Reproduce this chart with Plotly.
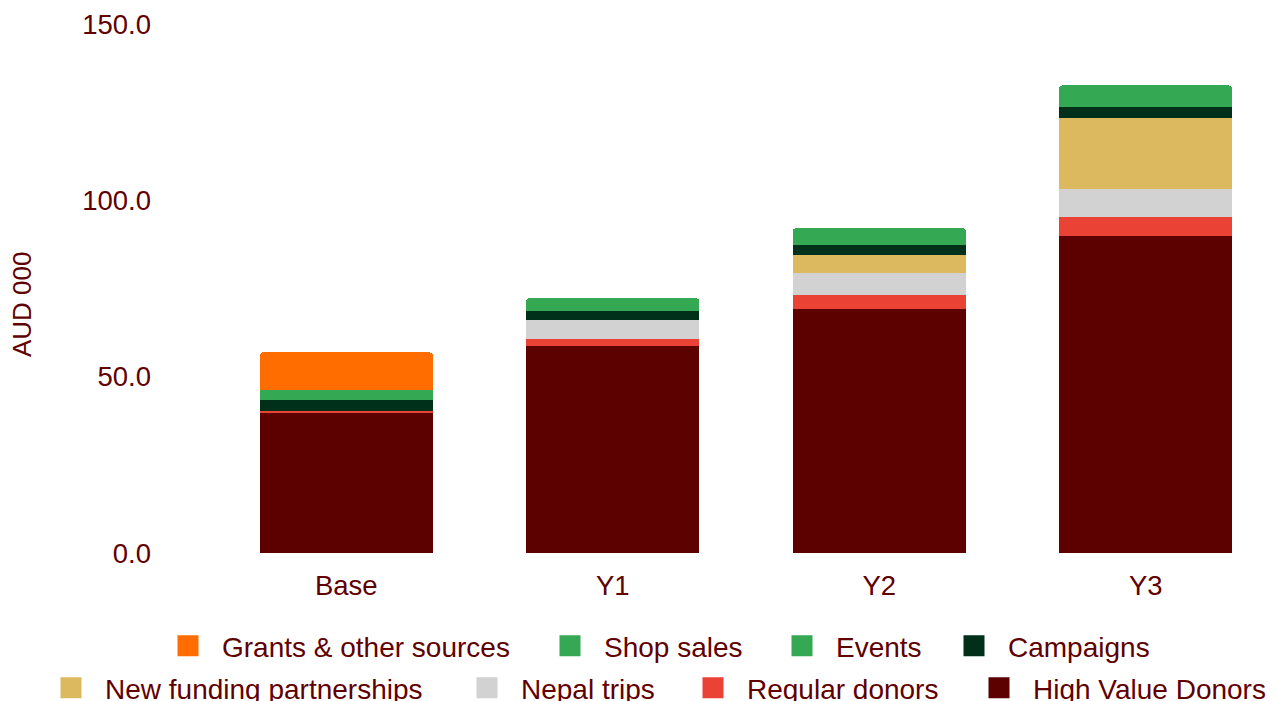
import plotly.graph_objects as go

categories = ["Base", "Y1", "Y2", "Y3"]

high_value_donors = [39.7, 58.7, 69.2, 89.9]
regular_donors = [0.6, 2.0, 4.0, 5.4]
nepal_trips = [0.0, 5.4, 6.2, 7.9]
new_funding = [0.0, 0.0, 5.1, 20.1]
campaigns = [3.0, 2.6, 2.8, 3.1]
events = [2.8, 3.6, 4.8, 6.2]
shop_sales = [None, None, None, None]
grants = [10.8, None, None, None]

series_names = ["High Value Donors", "Regular donors", "Nepal trips", "New funding partnerships",
                "Campaigns", "Events", "Shop sales", "Grants & other sources"]
series_values = [high_value_donors, regular_donors, nepal_trips, new_funding,
                 campaigns, events, shop_sales, grants]
series_colors = ["#5d0000", "#ea4335", "#d2d2d3", "#dcb95e",
                 "#003019", "#34a853", "#34a853", "#ff6d00"]

# legend layout: (name, swatch left edge px, row centre y px)
legend_slots = [
    ("Grants & other sources", 174, 646), ("Shop sales", 556, 646),
    ("Events", 788, 646), ("Campaigns", 960, 646),
    ("New funding partnerships", 57, 688), ("Nepal trips", 473, 688),
    ("Regular donors", 699, 688), ("High Value Donors", 985, 688),
]

TEXT = "#600000"
FONT = "Liberation Sans, Arial, sans-serif"
W, H = 1279, 701

fig = go.Figure()
for name, vals, col in zip(series_names, series_values, series_colors):
    marker = dict(color=col, line=dict(width=0))
    if name == "Grants & other sources":
        marker["cornerradius"] = 4
    fig.add_trace(go.Bar(x=categories, y=vals, name=name, marker=marker, showlegend=False))

color_of = dict(zip(series_names, series_colors))
legends = {}
for i, (name, sx, sy) in enumerate(legend_slots):
    lid = "legend" if i == 0 else f"legend{i + 1}"
    fig.add_trace(go.Scatter(
        x=[None], y=[None], mode="markers", name=name, legend=lid,
        marker=dict(symbol="square", size=16, color=color_of[name],
                    line=dict(width=5, color=color_of[name])),
        showlegend=True, hoverinfo="skip"))
    legends[lid] = dict(orientation="h", xref="container", yref="container",
                        xanchor="left", yanchor="middle",
                        x=(sx - 20) / W, y=(H - sy) / H,
                        font=dict(family=FONT, size=28, color=TEXT),
                        itemwidth=58, bgcolor="rgba(0,0,0,0)", borderwidth=0)

fig.update_layout(
    width=W, height=H,
    barmode="stack", bargap=0.35,
    plot_bgcolor="white", paper_bgcolor="white",
    margin=dict(l=213, r=0, t=24, b=148, autoexpand=False),
    font=dict(family=FONT, size=27.5, color=TEXT),
    xaxis=dict(showgrid=False, showline=False, zeroline=False, ticks="",
               tickfont=dict(size=27.5, color=TEXT), ticklabelstandoff=13),
    yaxis=dict(range=[0, 150], dtick=50, tickformat=".1f", showgrid=False,
               showline=False, zeroline=False, ticks="",
               tickfont=dict(size=27.5, color=TEXT), ticklabelstandoff=61),
    annotations=[dict(text="AUD 000", textangle=-90, showarrow=False,
                      xref="paper", yref="paper", x=(22 - 213) / 1066, y=(553 - 304) / 529,
                      xanchor="center", yanchor="middle",
                      font=dict(family=FONT, size=26, color=TEXT))],
    **legends,
)

fig.write_html("out.html")
